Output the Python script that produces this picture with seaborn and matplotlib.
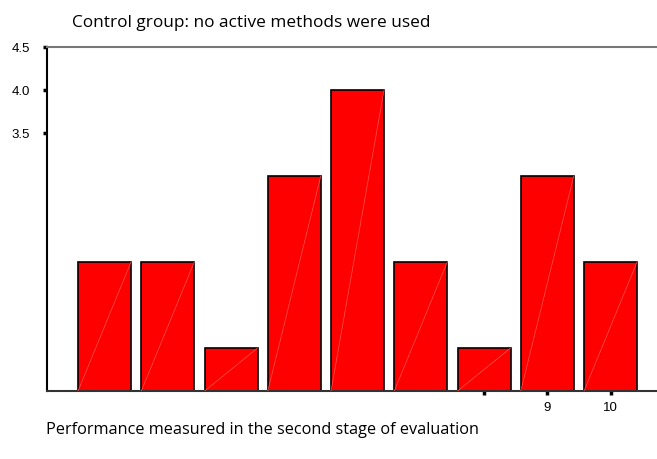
import matplotlib
matplotlib.use("Agg")
import matplotlib.pyplot as plt
import seaborn as sns
import pandas as pd

## scores and how many students got them
scores = ["2", "3", "4", "5", "6", "7", "8", "9", "10"]
counts = [2, 2, 1, 3, 4, 2, 1, 3, 2]
ytick_vals = [3.5, 4.0, 4.5]
ytick_labels = ["3.5", "4.0", "4.5"]
xtick_labels = ["", "9", "10"]

title = "Control group: no active methods were used"
xlabel = "Performance measured in the second stage of evaluation"

df = pd.DataFrame({"score": scores, "count": counts})

sns.set_style("white")
plt.rcParams["font.family"] = ["Liberation Sans", "DejaVu Sans"]
plt.rcParams["text.color"] = "black"

fig = plt.figure(figsize=(6.57, 4.59), dpi=100)
ax = fig.add_axes([0.0715, 0.148, 0.9285, 0.7496])

# bars start at 0.5 (bottom of the axis)
sns.barplot(data=df, x="score", y=[c - 0.5 for c in counts], bottom=0.5,
            color="#ff0000", saturation=1, width=0.838,
            edgecolor="black", linewidth=1.2, ax=ax)

# light diagonal inside each bar
for p in ax.patches:
    x0, y0 = p.get_x(), p.get_y()
    ax.plot([x0, x0 + p.get_width()], [y0, y0 + p.get_height()],
            color="#ff5555", lw=0.5, zorder=3)

ax.set_xlim(-0.91, 8.735)
ax.set_ylim(0.5, 4.5)

ax.set_yticks(ytick_vals)
ax.set_yticklabels(ytick_labels)
ax.set_xticks([6, 7, 8])
ax.set_xticklabels(xtick_labels)
ax.tick_params(axis="both", labelsize=9.5, length=3, width=2.5, colors="black",
               direction="out", left=True, bottom=True)
ax.tick_params(axis="y", pad=9)
ax.tick_params(axis="x", pad=5)
ax.set_xlabel("")
ax.set_ylabel("")

for side in ["left", "bottom", "top"]:
    ax.spines[side].set_visible(True)
ax.spines["right"].set_visible(False)
ax.spines["left"].set_color("black")
ax.spines["left"].set_linewidth(1.5)
ax.spines["bottom"].set_color("#333333")
ax.spines["bottom"].set_linewidth(1.5)
ax.spines["top"].set_color("#777777")
ax.spines["top"].set_linewidth(1.5)

fig.text(72 / 657, 1 - 23 / 459, title, fontsize=12.4, family="Open Sans",
         color="black", va="center", ha="left")
fig.text(46 / 657, 1 - 430 / 459, xlabel, fontsize=11.7, family="Open Sans",
         color="black", va="center", ha="left")

fig.savefig("out.png", dpi=100)
